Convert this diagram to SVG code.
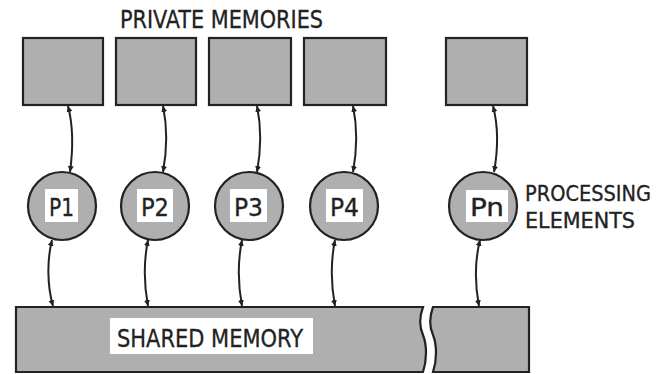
<svg xmlns="http://www.w3.org/2000/svg" width="659" height="374" viewBox="0 0 659 374">
<style>
.mem{fill:#afafaf;stroke:#222;stroke-width:2.2}
.pe{fill:#afafaf;stroke:#222;stroke-width:2.2}
.lab{fill:#fff;stroke:none}
.t{font-family:"DejaVu Sans Condensed","DejaVu Sans",sans-serif;font-size:25px;fill:#222;stroke:#222;stroke-width:0.3}
.s{font-size:22px}
.c{fill:none;stroke:#222;stroke-width:2}
</style>
<defs>
<marker id="ah" viewBox="0 0 10 10" refX="10" refY="5" markerWidth="6" markerHeight="6" markerUnits="userSpaceOnUse" orient="auto-start-reverse">
<path d="M0,0 L10,5 L0,10 Z" fill="#222"/>
</marker>
</defs>
<rect width="659" height="374" fill="#fff"/>
<text class="t" x="120" y="28" textLength="203" lengthAdjust="spacingAndGlyphs">PRIVATE MEMORIES</text>
<g id="m1"><rect class="mem" x="23" y="38" width="80" height="67"/></g>
<g id="m2"><rect class="mem" x="116" y="38" width="80" height="67"/></g>
<g id="m3"><rect class="mem" x="209" y="38" width="82" height="67"/></g>
<g id="m4"><rect class="mem" x="304" y="38" width="82" height="67"/></g>
<g id="m5"><rect class="mem" x="446" y="38" width="81" height="67"/></g>
<g id="p1"><circle class="pe" cx="62" cy="206" r="34"/><rect class="lab" x="45" y="189" width="33" height="33"/><text class="t" x="49" y="216" textLength="25" lengthAdjust="spacingAndGlyphs">P1</text></g>
<g id="p2"><circle class="pe" cx="155" cy="206" r="34"/><rect class="lab" x="137" y="189" width="36" height="33"/><text class="t" x="141" y="216" textLength="28" lengthAdjust="spacingAndGlyphs">P2</text></g>
<g id="p3"><circle class="pe" cx="249" cy="206" r="34"/><rect class="lab" x="230" y="189" width="37" height="33"/><text class="t" x="234" y="216" textLength="29" lengthAdjust="spacingAndGlyphs">P3</text></g>
<g id="p4"><circle class="pe" cx="344" cy="206" r="34"/><rect class="lab" x="326" y="189" width="37" height="33"/><text class="t" x="330" y="216" textLength="29" lengthAdjust="spacingAndGlyphs">P4</text></g>
<g id="pn"><circle class="pe" cx="483" cy="206" r="34"/><rect class="lab" x="466" y="190" width="42" height="32"/><text class="t" x="470" y="216" textLength="34" lengthAdjust="spacingAndGlyphs">Pn</text></g>
<text class="t s" x="525" y="201" textLength="126" lengthAdjust="spacingAndGlyphs">PROCESSING</text>
<text class="t s" x="525" y="228" textLength="110" lengthAdjust="spacingAndGlyphs">ELEMENTS</text>
<g id="shared">
<path class="mem" d="M16 307 L423 307 C419 318 419 326 423 335 C427 345 427 360 423 372 L16 372 Z"/>
<path class="mem" d="M433 307 L529 307 L529 372 L433 372 C437 360 437 345 433 335 C429 326 429 318 433 307 Z"/>
<rect class="lab" x="110" y="318" width="203" height="36"/>
<text class="t" x="117" y="347" textLength="186" lengthAdjust="spacingAndGlyphs">SHARED MEMORY</text>
</g>
<g id="connectors">
<path class="c" marker-start="url(#ah)" marker-end="url(#ah)" d="M68 106 C73 125 73 150 70 172"/>
<path class="c" marker-start="url(#ah)" marker-end="url(#ah)" d="M163 106 C167 125 167 150 163 172"/>
<path class="c" marker-start="url(#ah)" marker-end="url(#ah)" d="M257 106 C261 125 261 150 257 172"/>
<path class="c" marker-start="url(#ah)" marker-end="url(#ah)" d="M353 106 C357 125 357 150 353 172"/>
<path class="c" marker-start="url(#ah)" marker-end="url(#ah)" d="M493 106 C498 125 498 150 494 172"/>
<path class="c" marker-start="url(#ah)" marker-end="url(#ah)" d="M52 240 C47 260 47 285 53 306"/>
<path class="c" marker-start="url(#ah)" marker-end="url(#ah)" d="M148 240 C144 260 144 285 148 306"/>
<path class="c" marker-start="url(#ah)" marker-end="url(#ah)" d="M242 240 C238 260 238 285 242 306"/>
<path class="c" marker-start="url(#ah)" marker-end="url(#ah)" d="M335 240 C331 260 331 285 335 306"/>
<path class="c" marker-start="url(#ah)" marker-end="url(#ah)" d="M480 240 C475 260 475 285 479 306"/>
</g>
</svg>
